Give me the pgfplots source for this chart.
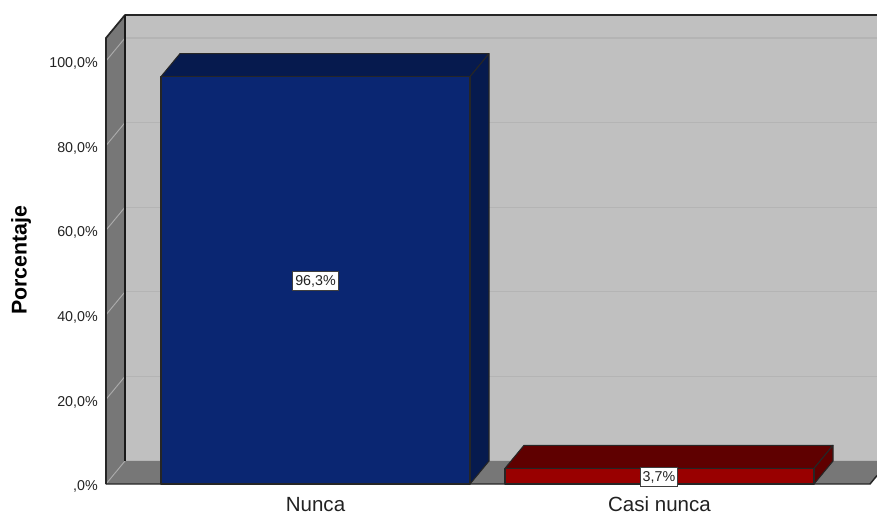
\documentclass[border=0pt]{standalone}
\usepackage{pgfplots}
\pgfplotsset{compat=1.18}
\usepackage{fontspec}
\setmainfont{Liberation Sans}
\definecolor{wallback}{HTML}{C0C0C0}
\definecolor{wallside}{HTML}{777777}
\definecolor{gridback}{HTML}{B4B4B4}
\definecolor{gridside}{HTML}{ABABAB}
\definecolor{bluefront}{HTML}{0A2672}
\definecolor{bluetop}{HTML}{061A4E}
\definecolor{redfront}{HTML}{990000}
\definecolor{redtop}{HTML}{5F0000}
\definecolor{txt}{HTML}{222222}
\begin{document}
\begin{tikzpicture}[x=1pt,y=1pt]
\useasboundingbox (-79.5pt,-23.25pt) rectangle (578.25pt,363pt);
\begin{axis}[
  at={(0pt,0pt)}, anchor=origin,
  scale only axis, width=578.25pt, height=363pt,
  xmin=106, xmax=877, ymin=0, ymax=114.42,
  enlargelimits=false, clip=false,
  axis line style={draw=none}, major tick length=0pt, tick style={draw=none},
  xtick={315.5,659.5}, xticklabels={Nunca,Casi nunca},
  ytick={0,20,40,60,80,100},
  yticklabels={{,0\%},{20,0\%},{40,0\%},{60,0\%},{80,0\%},{100,0\%}},
  yticklabel style={font=\fontsize{10.7}{12}\selectfont, text=txt, inner sep=0pt, xshift=-6pt, yshift=-2pt},
  xticklabel style={font=\fontsize{15.4}{18}\selectfont, text=txt, inner sep=0pt, yshift=-9.5pt, text height=11pt, text depth=0pt},
  ylabel={Porcentaje},
  ylabel style={at={(axis cs:21,52.95)}, anchor=center, font=\bfseries\fontsize{16}{18}\selectfont},
  every axis plot/.append style={line join=round},
]
% back wall
\addplot[fill=wallback, draw=none, no markers] coordinates {(125,5.44)(877,5.44)(877,110.87)(125,110.87)} -- cycle;
% left wall
\addplot[fill=wallside, draw=none, no markers] coordinates {(106,0)(125,5.44)(125,110.87)(106,105.44)} -- cycle;
% floor
\addplot[fill=wallside, draw=none, no markers] coordinates {(106,0)(870,0)(877,2.0)(877,5.44)(125,5.44)} -- cycle;
% gridlines, back wall
\foreach \v in {25.44,45.44,65.44,85.44,105.44}{
  \addplot[gridback, line width=0.9pt, no markers] coordinates {(125,\v)(877,\v)};
}
% gridlines, left wall
\addplot[gridside, line width=0.7pt, no markers] coordinates {(106,0)(125,5.44)};
\addplot[gridside, line width=0.7pt, no markers] coordinates {(106,20)(125,25.44)};
\addplot[gridside, line width=0.7pt, no markers] coordinates {(106,40)(125,45.44)};
\addplot[gridside, line width=0.7pt, no markers] coordinates {(106,60)(125,65.44)};
\addplot[gridside, line width=0.7pt, no markers] coordinates {(106,80)(125,85.44)};
\addplot[gridside, line width=0.7pt, no markers] coordinates {(106,100)(125,105.44)};
% frame
\addplot[black!85, line width=1.3pt, no markers] coordinates {(106,0)(106,105.44)(125,110.87)(877,110.87)};
\addplot[black!90, line width=0.8pt, no markers] coordinates {(125,5.44)(125,110.87)};
\addplot[black!85, line width=1.1pt, no markers] coordinates {(106,0)(870,0)(877,2.0)};
% bar Nunca
\addplot[fill=bluetop, draw=black!85, line width=0.8pt, no markers] coordinates {(161,96.3)(180,101.74)(489,101.74)(470,96.3)} -- cycle;
\addplot[fill=bluetop, draw=black!85, line width=0.8pt, no markers] coordinates {(470,0)(489,5.44)(489,101.74)(470,96.3)} -- cycle;
\addplot[ybar, bar width=309, bar shift=0pt, fill=bluefront, draw=black!85, line width=0.8pt] coordinates {(315.5,96.3)};
% bar Casi nunca
\addplot[fill=redtop, draw=black!85, line width=0.8pt, no markers] coordinates {(505,3.7)(524,9.14)(833,9.14)(814,3.7)} -- cycle;
\addplot[fill=redtop, draw=black!85, line width=0.8pt, no markers] coordinates {(814,0)(833,5.44)(833,9.14)(814,3.7)} -- cycle;
\addplot[ybar, bar width=309, bar shift=0pt, fill=redfront, draw=black!85, line width=0.8pt] coordinates {(659.5,3.7)};
% value labels
\node[fill=white, draw=black!75, line width=0.7pt, inner xsep=2pt, inner ysep=3pt, font=\fontsize{10.7}{12}\selectfont, text=txt] at (axis cs:315.5,48) {96,3\%};
\node[fill=white, draw=black!75, line width=0.7pt, inner xsep=2pt, inner ysep=3pt, font=\fontsize{10.7}{12}\selectfont, text=txt] at (axis cs:659,1.65) {3,7\%};
\end{axis}
\end{tikzpicture}
\end{document}
